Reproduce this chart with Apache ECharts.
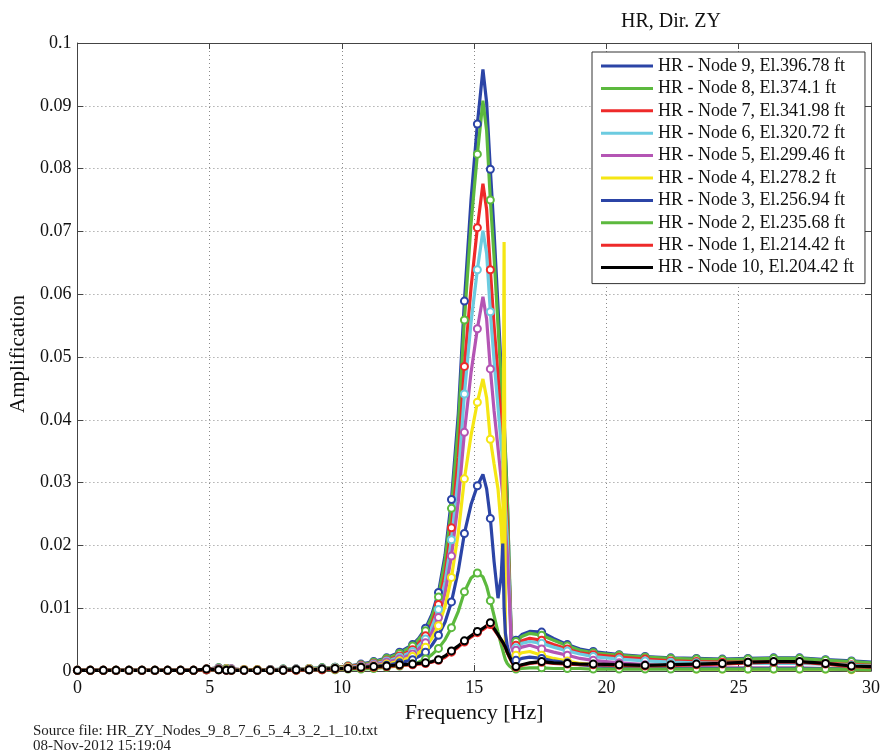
<!DOCTYPE html>
<html>
<head>
<meta charset="utf-8">
<title>HR, Dir. ZY</title>
<script src="https://cdn.jsdelivr.net/npm/echarts@6/dist/echarts.min.js"></script>
<style>
  html, body { margin: 0; padding: 0; background: #fff; }
  #chart { width: 883px; height: 755px; }
</style>
</head>
<body>
<div id="chart"></div>
<script>
// Frequency samples [Hz] shared by every node
const freqHz = [
  0, 0.49, 0.98, 1.46, 1.95, 2.44, 2.93, 3.41, 3.90, 4.39, 4.88,
  5.34, 5.63, 5.82, 6.30, 6.80, 7.29, 7.78, 8.27, 8.76, 9.25, 9.74,
  10.23, 10.72, 11.20, 11.69, 12.18, 12.67,
  12.90, 13.16, 13.40, 13.65, 13.90, 14.14, 14.40, 14.63, 14.88, 15.12,
  15.33, 15.47, 15.61, 15.75, 15.90, 16.02, 16.08, 16.13, 16.18, 16.25, 16.33, 16.40, 16.48,
  16.58, 16.80, 17.10, 17.55, 18.00, 18.52, 19.00, 19.50,
  20.48, 21.46, 22.43, 23.40, 24.38, 25.35, 26.32, 27.30, 28.28, 29.26, 30.00
];

// 1 = sample drawn with a circle marker
const markerMask = [
  1, 1, 1, 1, 1, 1, 1, 1, 1, 1, 1,
  1, 1, 1, 1, 1, 1, 1, 1, 1, 1, 1,
  1, 1, 1, 1, 1, 1,
  0, 1, 0, 1, 0, 1, 0, 1, 0, 1,
  0, 0, 1, 0, 0, 0, 0, 0, 0, 0, 0, 0, 0,
  1, 0, 0, 1, 0, 1, 0, 1,
  1, 1, 1, 1, 1, 1, 1, 1, 1, 1, 0
];

// Amplification per node
const node9 = [
  0.0001, 0.0001, 0.0001, 0.0001, 0.0001, 0.0001, 0.0001, 0.0001, 0.0001, 0.0001, 0.0003,
  0.0005, 0.0004, 0.0003, 0.0002, 0.0002, 0.0002, 0.0003, 0.0003, 0.0004, 0.0005, 0.0006,
  0.0008, 0.0011, 0.0015, 0.0021, 0.0030, 0.0042,
  0.0052, 0.0068, 0.0090, 0.0125, 0.0185, 0.0273, 0.0410, 0.0589, 0.0750, 0.0871,
  0.0958, 0.0905, 0.0799, 0.0700, 0.0580, 0.0480, 0.0440, 0.0400, 0.0350, 0.0280, 0.0150, 0.0055, 0.0045,
  0.0049, 0.0058, 0.0063, 0.0062, 0.0052, 0.0042, 0.0035, 0.0031,
  0.0026, 0.0023, 0.0021, 0.0020, 0.0019, 0.0020, 0.0021, 0.0021, 0.0018, 0.0016, 0.0014
];
const node8 = [
  0.0001, 0.0001, 0.0001, 0.0001, 0.0001, 0.0001, 0.0001, 0.0001, 0.0001, 0.0001, 0.0003,
  0.0005, 0.0004, 0.0003, 0.0002, 0.0002, 0.0002, 0.0003, 0.0003, 0.0004, 0.0005, 0.0006,
  0.0008, 0.0010, 0.0014, 0.0020, 0.0028, 0.0040,
  0.0050, 0.0064, 0.0086, 0.0118, 0.0176, 0.0259, 0.0390, 0.0559, 0.0712, 0.0823,
  0.0908, 0.0860, 0.0750, 0.0660, 0.0550, 0.0460, 0.0420, 0.0385, 0.0340, 0.0275, 0.0160, 0.0060, 0.0043,
  0.0047, 0.0055, 0.0060, 0.0057, 0.0049, 0.0040, 0.0033, 0.0029,
  0.0025, 0.0022, 0.0020, 0.0019, 0.0018, 0.0019, 0.0020, 0.0020, 0.0017, 0.0015, 0.0013
];
const node7 = [
  0.0001, 0.0001, 0.0001, 0.0001, 0.0001, 0.0001, 0.0001, 0.0001, 0.0001, 0.0001, 0.0003,
  0.0004, 0.0003, 0.0003, 0.0002, 0.0002, 0.0002, 0.0002, 0.0003, 0.0003, 0.0004, 0.0005,
  0.0007, 0.0009, 0.0012, 0.0017, 0.0024, 0.0034,
  0.0044, 0.0056, 0.0076, 0.0106, 0.0155, 0.0228, 0.0340, 0.0485, 0.0610, 0.0706,
  0.0776, 0.0735, 0.0639, 0.0550, 0.0470, 0.0400, 0.0365, 0.0330, 0.0290, 0.0235, 0.0140, 0.0050, 0.0037,
  0.0041, 0.0048, 0.0052, 0.0049, 0.0042, 0.0035, 0.0029, 0.0026,
  0.0022, 0.0019, 0.0016, 0.0015, 0.0014, 0.0014, 0.0014, 0.0014, 0.0012, 0.0010, 0.0009
];
const node6 = [
  0.0001, 0.0001, 0.0001, 0.0001, 0.0001, 0.0001, 0.0001, 0.0001, 0.0001, 0.0001, 0.0002,
  0.0004, 0.0003, 0.0003, 0.0002, 0.0002, 0.0002, 0.0002, 0.0003, 0.0003, 0.0004, 0.0005,
  0.0006, 0.0008, 0.0011, 0.0016, 0.0022, 0.0031,
  0.0040, 0.0051, 0.0070, 0.0098, 0.0142, 0.0209, 0.0310, 0.0441, 0.0555, 0.0639,
  0.0701, 0.0665, 0.0572, 0.0495, 0.0420, 0.0360, 0.0330, 0.0300, 0.0262, 0.0215, 0.0130, 0.0045, 0.0034,
  0.0037, 0.0044, 0.0047, 0.0044, 0.0038, 0.0032, 0.0027, 0.0023,
  0.0019, 0.0016, 0.0014, 0.0013, 0.0012, 0.0012, 0.0012, 0.0012, 0.0011, 0.0009, 0.0008
];
const node5 = [
  0.0001, 0.0001, 0.0001, 0.0001, 0.0001, 0.0001, 0.0001, 0.0001, 0.0001, 0.0001, 0.0002,
  0.0004, 0.0003, 0.0003, 0.0002, 0.0002, 0.0002, 0.0002, 0.0002, 0.0003, 0.0003, 0.0004,
  0.0005, 0.0007, 0.0010, 0.0014, 0.0019, 0.0027,
  0.0035, 0.0045, 0.0061, 0.0085, 0.0124, 0.0183, 0.0270, 0.0380, 0.0475, 0.0545,
  0.0596, 0.0560, 0.0481, 0.0415, 0.0355, 0.0305, 0.0280, 0.0255, 0.0225, 0.0185, 0.0115, 0.0040, 0.0030,
  0.0033, 0.0038, 0.0041, 0.0035, 0.0030, 0.0025, 0.0020, 0.0017,
  0.0013, 0.0010, 0.0008, 0.0006, 0.0005, 0.0005, 0.0005, 0.0005, 0.0004, 0.0004, 0.0003
];
const node4 = [
  0.0001, 0.0001, 0.0001, 0.0001, 0.0001, 0.0001, 0.0001, 0.0001, 0.0001, 0.0001, 0.0002,
  0.0003, 0.0003, 0.0002, 0.0002, 0.0002, 0.0002, 0.0002, 0.0002, 0.0003, 0.0003, 0.0004,
  0.0005, 0.0006, 0.0008, 0.0011, 0.0016, 0.0023,
  0.0029, 0.0038, 0.0052, 0.0072, 0.0103, 0.0149, 0.0220, 0.0306, 0.0375, 0.0428,
  0.0465, 0.0435, 0.0369, 0.0330, 0.0290, 0.0230, 0.0180, 0.0683, 0.0040, 0.0030, 0.0026, 0.0022, 0.0020,
  0.0025, 0.0029, 0.0031, 0.0025, 0.0020, 0.0016, 0.0012, 0.0010,
  0.0007, 0.0005, 0.0004, 0.0003, 0.0003, 0.0003, 0.0003, 0.0003, 0.0003, 0.0002, 0.0002
];
const node3 = [
  0.0001, 0.0001, 0.0001, 0.0001, 0.0001, 0.0001, 0.0001, 0.0001, 0.0001, 0.0001, 0.0002,
  0.0003, 0.0002, 0.0002, 0.0001, 0.0001, 0.0002, 0.0002, 0.0002, 0.0002, 0.0003, 0.0003,
  0.0004, 0.0005, 0.0007, 0.0009, 0.0013, 0.0018,
  0.0023, 0.0030, 0.0041, 0.0057, 0.0078, 0.0110, 0.0160, 0.0219, 0.0265, 0.0295,
  0.0313, 0.0290, 0.0243, 0.0175, 0.0116, 0.0150, 0.0203, 0.0100, 0.0060, 0.0040, 0.0028, 0.0020, 0.0016,
  0.0017, 0.0020, 0.0022, 0.0020, 0.0016, 0.0013, 0.0010, 0.0008,
  0.0006, 0.0005, 0.0004, 0.0004, 0.0004, 0.0004, 0.0004, 0.0004, 0.0004, 0.0003, 0.0003
];
const node2 = [
  0.0001, 0.0001, 0.0001, 0.0001, 0.0001, 0.0001, 0.0001, 0.0001, 0.0001, 0.0001, 0.0002,
  0.0002, 0.0002, 0.0001, 0.0001, 0.0001, 0.0001, 0.0001, 0.0001, 0.0002, 0.0002, 0.0002,
  0.0003, 0.0003, 0.0004, 0.0006, 0.0008, 0.0011,
  0.0014, 0.0019, 0.0026, 0.0036, 0.0050, 0.0069, 0.0095, 0.0126, 0.0148, 0.0156,
  0.0150, 0.0135, 0.0112, 0.0088, 0.0062, 0.0042, 0.0033, 0.0025, 0.0018, 0.0012, 0.0008, 0.0005, 0.0003,
  0.0003, 0.0004, 0.0005, 0.0005, 0.0004, 0.0004, 0.0004, 0.0003,
  0.0003, 0.0003, 0.0003, 0.0003, 0.0003, 0.0003, 0.0003, 0.0003, 0.0003, 0.0003, 0.0002
];
const node1 = [
  0.0001, 0.0001, 0.0001, 0.0001, 0.0001, 0.0001, 0.0001, 0.0001, 0.0001, 0.0001, 0.0002,
  0.0002, 0.0001, 0.0001, 0.0001, 0.0001, 0.0001, 0.0001, 0.0001, 0.0002, 0.0002, 0.0003,
  0.0004, 0.0005, 0.0006, 0.0007, 0.0009, 0.0010,
  0.0011, 0.0012, 0.0014, 0.0017, 0.0022, 0.0030, 0.0038, 0.0046, 0.0054, 0.0061,
  0.0066, 0.0070, 0.0074, 0.0066, 0.0057, 0.0049, 0.0045, 0.0041, 0.0037, 0.0029, 0.0022, 0.0016, 0.0010,
  0.0006, 0.0009, 0.0012, 0.0014, 0.0012, 0.0011, 0.0010, 0.0010,
  0.0009, 0.0008, 0.0009, 0.0010, 0.0011, 0.0013, 0.0014, 0.0014, 0.0011, 0.0007, 0.0006
];
const node10 = [
  0.0001, 0.0001, 0.0001, 0.0001, 0.0001, 0.0001, 0.0001, 0.0001, 0.0001, 0.0001, 0.0003,
  0.0002, 0.0001, 0.0001, 0.0001, 0.0001, 0.0001, 0.0001, 0.0002, 0.0002, 0.0003, 0.0004,
  0.0004, 0.0006, 0.0007, 0.0008, 0.0010, 0.0011,
  0.0012, 0.0013, 0.0015, 0.0018, 0.0024, 0.0032, 0.0040, 0.0048, 0.0056, 0.0063,
  0.0068, 0.0072, 0.0077, 0.0068, 0.0058, 0.0050, 0.0046, 0.0042, 0.0038, 0.0030, 0.0023, 0.0017, 0.0011,
  0.0007, 0.0010, 0.0013, 0.0015, 0.0013, 0.0012, 0.0011, 0.0011,
  0.0010, 0.0009, 0.0010, 0.0011, 0.0012, 0.0014, 0.0015, 0.0015, 0.0012, 0.0008, 0.0007
];

const seriesNames = [
  'HR - Node 9, El.396.78 ft',
  'HR - Node 8, El.374.1 ft',
  'HR - Node 7, El.341.98 ft',
  'HR - Node 6, El.320.72 ft',
  'HR - Node 5, El.299.46 ft',
  'HR - Node 4, El.278.2 ft',
  'HR - Node 3, El.256.94 ft',
  'HR - Node 2, El.235.68 ft',
  'HR - Node 1, El.214.42 ft',
  'HR - Node 10, El.204.42 ft'
];
const seriesValues = [node9, node8, node7, node6, node5, node4, node3, node2, node1, node10];
const seriesColors = ['#2b44a6', '#5cb93e', '#ee2a2a', '#6ccbe0', '#b455b4',
                      '#f5e614', '#2b44a6', '#5cb93e', '#ee2a2a', '#000000'];

const xTickLabels = ['0', '5', '10', '15', '20', '25', '30'];
const yTickLabels = ['0', '0.01', '0.02', '0.03', '0.04', '0.05', '0.06', '0.07', '0.08', '0.09', '0.1'];

const FONT = 'Liberation Serif';
const AXIS_COLOR = '#444';

const chart = echarts.init(document.getElementById('chart'), null, { renderer: 'canvas' });

const series = seriesNames.map((name, k) => ({
  type: 'line',
  name: name,
  data: freqHz.map((f, i) => [f, seriesValues[k][i]]),
  symbol: 'circle',
  symbolSize: (val, params) => (markerMask[params.dataIndex] ? 7 : 0),
  showAllSymbol: true,
  lineStyle: { color: seriesColors[k], width: 3.2 },
  itemStyle: { color: '#ffffff', borderColor: seriesColors[k], borderWidth: 2 },
  emphasis: { disabled: true },
  animation: false,
  clip: true
}));

// shared look of the four sides of the plot box
const boxAxis = {
  axisLine: { show: true, onZero: false, lineStyle: { color: AXIS_COLOR, width: 1 } },
  axisTick: { show: true, inside: true, length: 6, lineStyle: { color: AXIS_COLOR } }
};

chart.setOption({
  backgroundColor: '#ffffff',
  animation: false,
  textStyle: { fontFamily: FONT },
  title: {
    text: 'HR, Dir. ZY',
    left: 621,
    top: 12,
    padding: 0,
    textStyle: { fontFamily: FONT, fontSize: 20, fontWeight: 'normal', color: '#111' }
  },
  grid: { left: 76, right: 8, top: 43, bottom: 84, containLabel: false },
  xAxis: [
    Object.assign({}, boxAxis, {
      type: 'value', min: 0, max: 30, interval: 5, position: 'bottom',
      axisLabel: {
        fontFamily: FONT, fontSize: 18, color: '#111', margin: 8,
        formatter: v => xTickLabels[Math.round(v / 5)]
      },
      splitLine: { show: true, lineStyle: { color: '#8a8a8a', width: 1, type: [1, 3] } },
      name: 'Frequency [Hz]', nameLocation: 'middle', nameGap: 29,
      nameTextStyle: { fontFamily: FONT, fontSize: 22, color: '#111' }
    }),
    Object.assign({}, boxAxis, {
      type: 'value', min: 0, max: 30, interval: 5, position: 'top',
      axisLabel: { show: false }, splitLine: { show: false }
    })
  ],
  yAxis: [
    Object.assign({}, boxAxis, {
      type: 'value', min: 0, max: 0.1, interval: 0.01, position: 'left',
      axisLabel: {
        fontFamily: FONT, fontSize: 18, color: '#111', margin: 6,
        formatter: v => yTickLabels[Math.round(v / 0.01)]
      },
      splitLine: { show: true, lineStyle: { color: '#8a8a8a', width: 1, type: [1, 3] } },
      name: 'Amplification', nameLocation: 'middle', nameGap: 46, nameRotate: 90,
      nameTextStyle: { fontFamily: FONT, fontSize: 21, color: '#111', padding: [0, 0, 0, 6] }
    }),
    Object.assign({}, boxAxis, {
      type: 'value', min: 0, max: 0.1, interval: 0.01, position: 'right',
      axisLabel: { show: false }, splitLine: { show: false }
    })
  ],
  legend: {
    orient: 'vertical',
    left: 592,
    top: 52,
    padding: [5, 11, 7, 9],
    itemWidth: 52,
    itemHeight: 3,
    itemGap: 4.4,
    icon: 'rect',
    selectedMode: false,
    backgroundColor: '#ffffff',
    borderColor: '#333333',
    borderWidth: 1,
    textStyle: { fontFamily: FONT, fontSize: 18, lineHeight: 18, color: '#111' },
    data: seriesNames.map((name, k) => ({
      name: name,
      icon: 'rect',
      itemStyle: { color: seriesColors[k], borderWidth: 0 }
    }))
  },
  graphic: [
    {
      type: 'text', left: 33, top: 724,
      style: { text: 'Source file: HR_ZY_Nodes_9_8_7_6_5_4_3_2_1_10.txt', font: '15px "Liberation Serif"', fill: '#222' }
    },
    {
      type: 'text', left: 33, top: 739,
      style: { text: '08-Nov-2012 15:19:04', font: '15px "Liberation Serif"', fill: '#222' }
    }
  ],
  series: series
});
</script>
</body>
</html>
